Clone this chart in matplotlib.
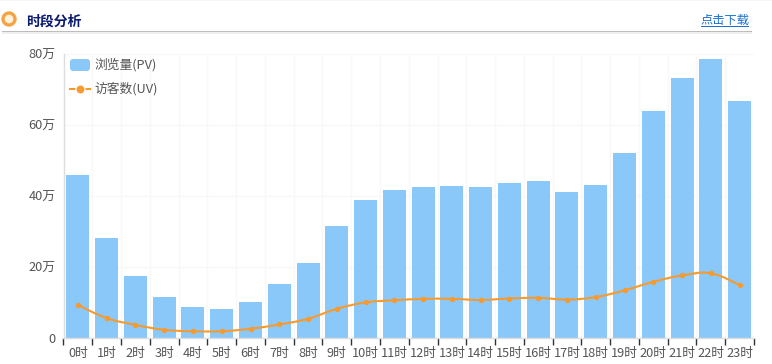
import numpy as np
import matplotlib
matplotlib.use('Agg')
import matplotlib.pyplot as plt
from matplotlib.lines import Line2D
from matplotlib.patches import Circle, FancyBboxPatch, PathPatch, Rectangle
from matplotlib.path import Path

plt.rcParams['font.family'] = ['Noto Sans CJK SC', 'DejaVu Sans']

W, H = 772, 364

# Hourly values, in units of 10 thousand (万)
hours = [f'{h}时' for h in range(24)]
pv = [45.9, 28.2, 17.5, 11.5, 8.7, 8.2, 10.1, 15.2, 21.1, 31.5, 38.9, 41.7,
      42.5, 42.8, 42.5, 43.7, 44.2, 41.1, 43.1, 52.1, 63.9, 73.2, 78.4, 66.6]
uv = [9.3, 5.6, 3.7, 2.3, 1.9, 1.9, 2.6, 3.8, 5.4, 8.2, 10.0, 10.6,
      11.0, 11.0, 10.7, 11.1, 11.3, 10.8, 11.5, 13.4, 15.8, 17.6, 18.2, 14.9]
y_ticks = [0, 20, 40, 60, 80]
y_labels = ['0', '20万', '40万', '60万', '80万']

BAR = '#8AC8F9'
LINE = '#F79A2E'
TEXT = '#555555'


def smooth_path(x, y, k=0.2):
    # same kind of smoothing the line has in the picture
    x, y = np.asarray(x, float), np.asarray(y, float)
    verts = [(x[0], y[0])]
    codes = [Path.MOVETO]
    for i in range(len(x) - 1):
        prev = max(i - 1, 0)
        nxt = min(i + 2, len(x) - 1)
        verts.append((x[i] + k * (x[i + 1] - x[prev]), y[i] + k * (y[i + 1] - y[prev])))
        verts.append((x[i + 1] - k * (x[nxt] - x[i]), y[i + 1] - k * (y[nxt] - y[i])))
        verts.append((x[i + 1], y[i + 1]))
        codes += [Path.CURVE4] * 3
    return Path(verts, codes)


fig = plt.figure(figsize=(W / 100, H / 100), dpi=100, facecolor='white')

# Page layer in pixel coordinates, for the header
page = fig.add_axes([0, 0, 1, 1])
page.set_xlim(0, W)
page.set_ylim(H, 0)
page.axis('off')
page.add_patch(Rectangle((0, 0), W, 1, color='#F5F5F8', lw=0))
page.add_patch(Rectangle((2, 31), 750, 1, color='#BDBDBD', lw=0))
page.add_patch(Rectangle((2, 32), 750, 2, color='#EFEFEF', lw=0))
page.add_patch(Circle((9, 19), 6, fc='#FFF1DE', ec='#F5A443', lw=2.4))
page.text(26.5, 22, '时段分析', fontsize=10, fontweight='bold', color='#0A1A6E', va='center', ha='left')
page.text(725, 20.5, '点击下载', fontsize=8.8, color='#1A6FD0', va='center', ha='center')
page.add_patch(Rectangle((701, 25.5), 48, 1, color='#1A6FD0', lw=0))

# Chart area
left, right, top, bottom = 63.5, 754, 53.5, 338
ax = fig.add_axes([left / W, 1 - bottom / H, (right - left) / W, (bottom - top) / H])
ax.patch.set_alpha(0)
x = np.arange(24)
ax.bar(x, pv, width=0.8, color=BAR, zorder=2)

path = smooth_path(x, uv)
ax.add_patch(PathPatch(path, fc='none', ec=LINE, lw=1.5, zorder=3))
ax.plot(x, uv, ls='none', marker='o', ms=2.8, color=LINE, zorder=4)

ax.set_xlim(-0.5, 23.5)
ax.set_ylim(0, 80)
ax.set_yticks(y_ticks, y_labels)
ax.set_xticks(np.arange(25) - 0.5, minor=False)
ax.set_xticklabels([])
ax.set_xticks(x, hours, minor=True)
ax.tick_params(axis='x', which='major', length=5, width=1, color='#333333', direction='out')
ax.tick_params(axis='x', which='minor', length=0, pad=6.5, labelsize=9.2, labelcolor=TEXT)
ax.tick_params(axis='y', length=0, pad=5.8, labelsize=9.2, labelcolor=TEXT)
ax.grid(True, color='#F8F8F8', lw=1, zorder=0)
ax.set_axisbelow(True)
for s in ['top', 'right']:
    ax.spines[s].set_visible(False)
for s in ['left', 'bottom']:
    ax.spines[s].set_color('#DDDDDD')
    ax.spines[s].set_linewidth(1)

# Legend, placed by hand in page coordinates
page.set_zorder(3)
page.patch.set_alpha(0)
page.add_patch(FancyBboxPatch((72, 61), 16, 8, boxstyle='round,pad=2,rounding_size=3', fc=BAR, ec='none'))
page.text(94.5, 64.5, '浏览量(PV)', fontsize=9.2, color=TEXT, va='center')
page.add_line(Line2D([70, 90], [89, 89], color=LINE, lw=1.5))
page.add_line(Line2D([80], [89], marker='o', ms=6.5, color=LINE, mec='white', mew=0.8))
page.text(94.5, 89, '访客数(UV)', fontsize=9.2, color=TEXT, va='center')

fig.savefig('out.png', dpi=100)
